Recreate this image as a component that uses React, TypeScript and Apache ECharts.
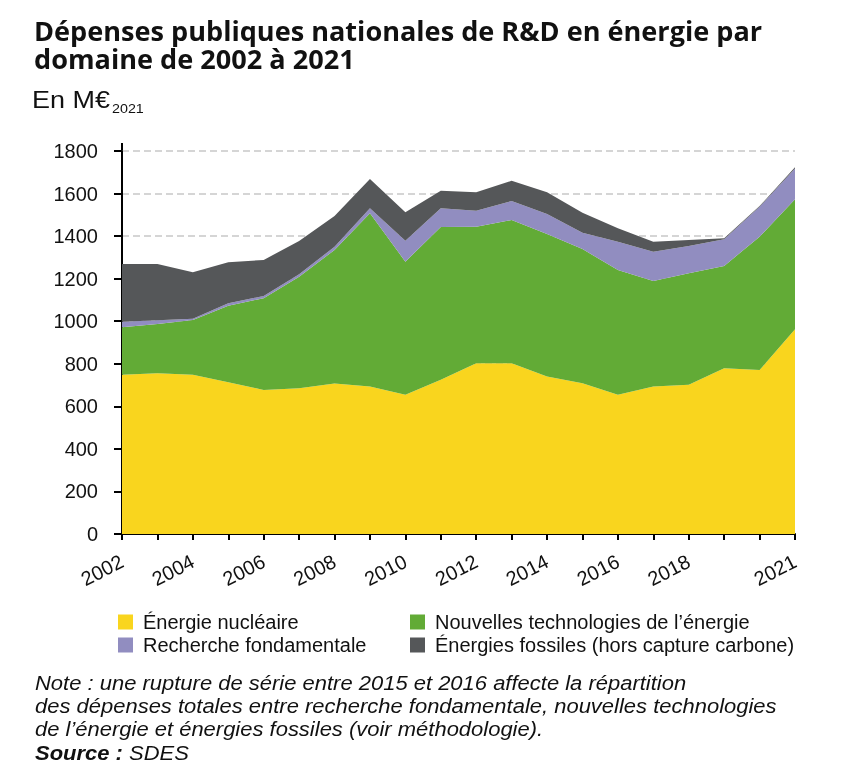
import React, { useEffect, useRef } from "react";
import * as echarts from "echarts";

const years = ["2002","2003","2004","2005","2006","2007","2008","2009","2010","2011","2012","2013","2014","2015","2016","2017","2018","2019","2020","2021"];
const shownYearLabels = ["2002","2004","2006","2008","2010","2012","2014","2016","2018","2021"];
const nuclear = [748,756,748,713,677,685,707,693,654,725,803,803,740,709,654,693,701,779,771,962];
const newTech = [224,231,258,360,431,524,628,814,626,718,641,673,670,630,587,496,524,481,626,611];
const fundamental = [25,18,6,12,11,12,15,24,98,88,75,89,94,77,133,138,129,125,141,145];
const fossil = [272,264,218,192,169,156,144,137,134,82,87,95,102,94,63,47,28,5,3,6];

const seriesNames = [
  "Énergie nucléaire",
  "Nouvelles technologies de l’énergie",
  "Recherche fondamentale",
  "Énergies fossiles (hors capture carbone)",
];
const colors = ["#F9D51E", "#62AB36", "#918DC0", "#555759"];

const titleLines = [
  "Dépenses publiques nationales de R&D en énergie par",
  "domaine de 2002 à 2021",
];
const noteLines = [
  "Note : une rupture de série entre 2015 et 2016 affecte la répartition",
  "des dépenses totales entre recherche fondamentale, nouvelles technologies",
  "de l’énergie et énergies fossiles (voir méthodologie).",
];

function measure(text: string, font: string): number {
  const c = document.createElement("canvas").getContext("2d");
  if (!c) return text.length * 10;
  c.font = font;
  return c.measureText(text).width;
}

export default function App() {
  const ref = useRef<HTMLDivElement>(null);
  useEffect(() => {
    if (!ref.current) return;
    const chart = echarts.init(ref.current, null, { renderer: "svg" });
    const SANS = "Liberation Sans, Arial, Helvetica, sans-serif";
    const TITLE = "Open Sans";
    const titleScale = 728 / measure(titleLines[0], `700 27px "${TITLE}"`);
    const noteScale = 651 / measure(noteLines[0], `italic 20.5px "Liberation Sans"`);
    const unitScale = 78 / measure("En M€", `23px "Liberation Sans"`);

    const seriesData = [nuclear, newTech, fundamental, fossil];
    const legendText = { fontSize: 20, fontFamily: SANS, color: "#111", padding: [0, 0, 0, 5] };

    chart.setOption({
      animation: false,
      grid: { left: 122, right: 47, top: 151, bottom: 248, containLabel: false },
      legend: [
        {
          left: 118, top: 612, orient: "vertical", padding: 0,
          itemWidth: 15, itemHeight: 15, itemGap: 3, icon: "rect",
          data: [seriesNames[0], seriesNames[2]], textStyle: legendText,
        },
        {
          left: 410, top: 612, orient: "vertical", padding: 0,
          itemWidth: 15, itemHeight: 15, itemGap: 3, icon: "rect",
          data: [seriesNames[1], seriesNames[3]], textStyle: legendText,
        },
      ],
      xAxis: {
        type: "category",
        data: years,
        boundaryGap: false,
        axisLine: { lineStyle: { color: "#000", width: 2 } },
        axisTick: { show: true, interval: 0, length: 6, lineStyle: { color: "#000", width: 2 } },
        axisLabel: {
          interval: (_i: number, v: string) => shownYearLabels.includes(v),
          rotate: 27, margin: 26, fontSize: 20, fontFamily: SANS, color: "#111",
        },
        splitLine: { show: false },
      },
      yAxis: {
        type: "value", min: 0, max: 1800, interval: 200,
        axisLine: { show: true, lineStyle: { color: "#000", width: 2 } },
        axisTick: { show: true, length: 8, lineStyle: { color: "#000", width: 2 } },
        axisLabel: { margin: 24, fontSize: 20, fontFamily: SANS, color: "#111", formatter: (v: number) => String(v) },
        splitLine: { show: true, lineStyle: { color: "#c8c8c8", width: 1.5, type: [7, 4] } },
      },
      series: seriesNames.map((name, i) => ({
        name, type: "line", stack: "total", data: seriesData[i],
        symbol: "none", showSymbol: false,
        lineStyle: { width: 0 },
        areaStyle: { color: colors[i], opacity: 1 },
        itemStyle: { color: colors[i] },
        z: 2,
      })),
      graphic: [
        ...titleLines.map((t, i) => ({
          type: "text", x: 34, y: 31 + i * 28, scaleX: titleScale,
          style: { text: t, fontSize: 27, fontWeight: 700, fontFamily: TITLE, fill: "#111", verticalAlign: "middle" },
        })),
        {
          type: "text", x: 32, y: 100, scaleX: unitScale,
          style: { text: "En M€", fontSize: 23, fontFamily: SANS, fill: "#111", verticalAlign: "middle" },
        },
        {
          type: "text", x: 112, y: 109, scaleX: 1.1,
          style: { text: "2021", fontSize: 13, fontFamily: SANS, fill: "#111", verticalAlign: "middle" },
        },
        {
          type: "line", shape: { x1: 122, y1: 143, x2: 122, y2: 152 },
          style: { stroke: "#000", lineWidth: 2 },
        },
        ...noteLines.map((t, i) => ({
          type: "text", x: 35, y: 683 + i * 23.3, scaleX: noteScale,
          style: { text: t, fontSize: 20.5, fontStyle: "italic", fontFamily: SANS, fill: "#111", verticalAlign: "middle" },
        })),
        {
          type: "text", x: 35, y: 683 + 3 * 23.3, scaleX: noteScale,
          style: {
            text: "{b|Source :} SDES",
            fontSize: 20.5, fontStyle: "italic", fontFamily: SANS, fill: "#111", verticalAlign: "middle",
            rich: { b: { fontSize: 20.5, fontStyle: "italic", fontWeight: "bold", fontFamily: SANS, fill: "#111" } },
          },
        },
      ],
    });
    return () => chart.dispose();
  }, []);
  return <div ref={ref} style={{ position: "fixed", left: 0, top: 0, width: 842, height: 782 }} />;
}
